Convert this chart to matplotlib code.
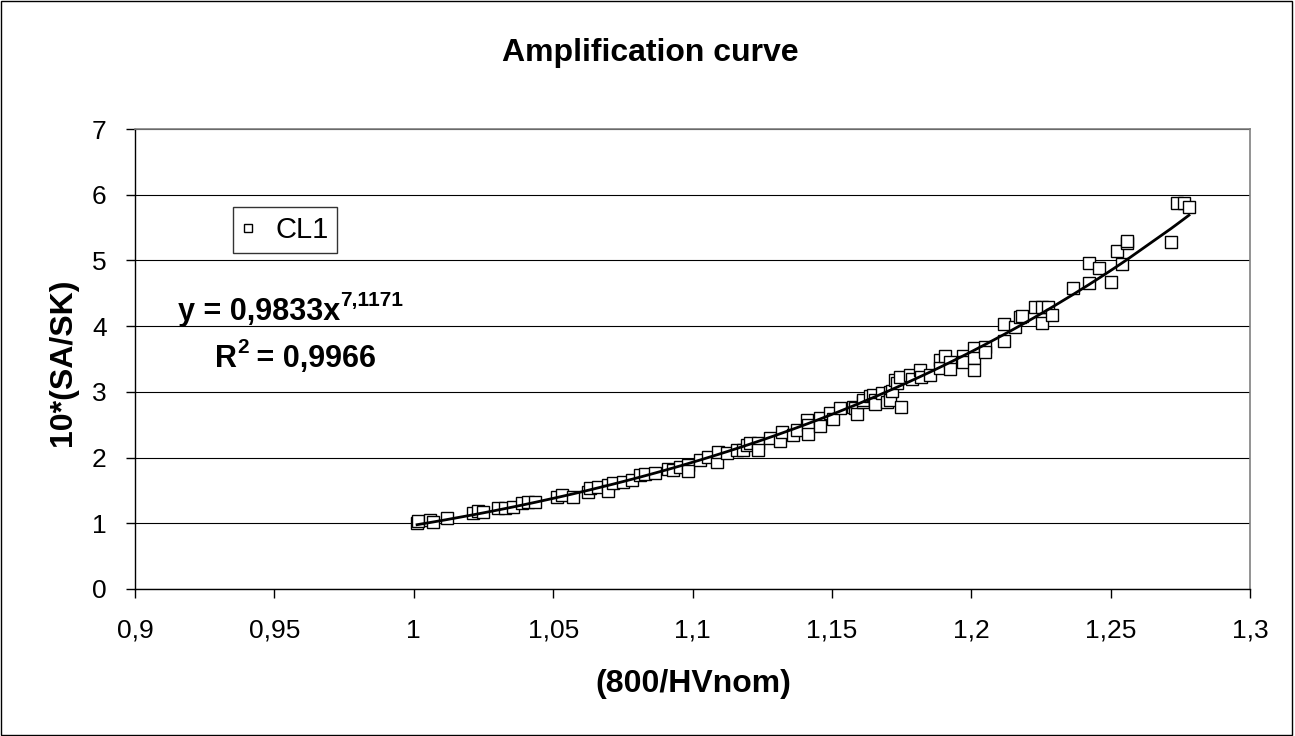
import numpy as np
import matplotlib
matplotlib.use('Agg')
import matplotlib.pyplot as plt
from matplotlib.ticker import FuncFormatter, MultipleLocator
from matplotlib.patches import Rectangle

plt.rcParams['font.family'] = ['Liberation Sans', 'DejaVu Sans']

# CL1 measurements: x = 800/HVnom, y = 10*(SA/SK)
cl1_x = [1.0012, 1.0015, 1.0058, 1.0069, 1.0119, 1.0213, 1.0230, 1.0248, 1.0302, 1.0327,
         1.0356, 1.0388, 1.0410, 1.0435, 1.0514, 1.0532, 1.0571, 1.0625, 1.0632, 1.0661,
         1.0697, 1.0697, 1.0715, 1.0751, 1.0783, 1.0812, 1.0830, 1.0865, 1.0912, 1.0930,
         1.0955, 1.0984, 1.0984, 1.1027, 1.1056, 1.1088, 1.1091, 1.1124, 1.1160, 1.1181,
         1.1196, 1.1206, 1.1235, 1.1235, 1.1278, 1.1314, 1.1321, 1.1361, 1.1375, 1.1411,
         1.1414, 1.1414, 1.1457, 1.1457, 1.1493, 1.1504, 1.1529, 1.1576, 1.1583, 1.1590,
         1.1612, 1.1612, 1.1637, 1.1648, 1.1655, 1.1655, 1.1680, 1.1698, 1.1709, 1.1709,
         1.1716, 1.1726, 1.1734, 1.1744, 1.1748, 1.1780, 1.1787, 1.1816, 1.1820, 1.1852,
         1.1888, 1.1888, 1.1906, 1.1924, 1.1924, 1.1970, 1.1970, 1.2010, 1.2010, 1.2010,
         1.2049, 1.2049, 1.2117, 1.2117, 1.2157, 1.2175, 1.2182, 1.2229, 1.2254, 1.2254,
         1.2275, 1.2290, 1.2365, 1.2422, 1.2422, 1.2458, 1.2501, 1.2523, 1.2541, 1.2559,
         1.2559, 1.2717, 1.2738, 1.2763, 1.2781]
cl1_y = [1.00, 1.04, 1.05, 1.02, 1.08, 1.16, 1.18, 1.17, 1.23, 1.24,
         1.25, 1.31, 1.32, 1.33, 1.40, 1.43, 1.40, 1.48, 1.54, 1.55,
         1.58, 1.49, 1.61, 1.63, 1.66, 1.74, 1.75, 1.77, 1.83, 1.81,
         1.86, 1.89, 1.80, 1.96, 2.01, 1.94, 2.09, 2.07, 2.12, 2.12,
         2.19, 2.22, 2.22, 2.11, 2.30, 2.25, 2.39, 2.35, 2.42, 2.57,
         2.50, 2.36, 2.60, 2.48, 2.68, 2.58, 2.75, 2.77, 2.75, 2.66,
         2.85, 2.88, 2.94, 2.95, 2.88, 2.81, 2.98, 2.84, 3.00, 2.88,
         3.02, 3.18, 3.14, 3.22, 2.77, 3.26, 3.19, 3.34, 3.22, 3.26,
         3.49, 3.37, 3.54, 3.46, 3.35, 3.54, 3.46, 3.67, 3.52, 3.34,
         3.69, 3.60, 4.04, 3.78, 3.99, 4.14, 4.16, 4.29, 4.29, 4.05,
         4.29, 4.17, 4.58, 4.96, 4.66, 4.89, 4.67, 5.14, 4.95, 5.27,
         5.30, 5.28, 5.87, 5.87, 5.81]

x_ticks = [0.9, 0.95, 1.0, 1.05, 1.1, 1.15, 1.2, 1.25, 1.3]

x = np.array(cl1_x)
y = np.array(cl1_y)

# power trendline fitted in log space
b, log_a = np.polyfit(np.log(x), np.log(y), 1)
xs = np.sort(x)
ys = np.exp(log_a) * xs ** b

fig = plt.figure(figsize=(12.95, 7.36), dpi=100)
fig.patches.append(Rectangle((0.001, 0.002), 0.997, 0.996, transform=fig.transFigure,
                             fill=False, edgecolor='black', linewidth=1.0))

ax = fig.add_axes([135 / 1295, 1 - 589 / 736, 1115 / 1295, 460 / 736])
ax.set_xlim(0.9, 1.3)
ax.set_ylim(0, 7)
ax.set_xticks(x_ticks)
ax.yaxis.set_major_locator(MultipleLocator(1))

comma = FuncFormatter(lambda v, p: ('%g' % round(v, 3)).replace('.', ','))
ax.xaxis.set_major_formatter(comma)
ax.yaxis.set_major_formatter(comma)

ax.grid(axis='y', color='black', linewidth=0.8)
ax.set_axisbelow(True)
for side in ['top', 'right']:
    ax.spines[side].set_color('#808080')
    ax.spines[side].set_linewidth(1.2)
for side in ['left', 'bottom']:
    ax.spines[side].set_color('black')
    ax.spines[side].set_linewidth(1.0)
ax.tick_params(direction='out', length=6.5, width=1, labelsize=19)
ax.tick_params(axis='x', pad=15)
ax.tick_params(axis='y', pad=14)

ax.plot(x, y, linestyle='none', marker='s', markersize=8, markerfacecolor='white',
        markeredgecolor='black', markeredgewidth=1.0, label='CL1', zorder=3)
ax.plot(xs, ys, color='black', linewidth=2.0, zorder=4)

leg = ax.legend(loc='upper left', bbox_to_anchor=(98 / 1115, 382 / 460), fontsize=21,
                frameon=True, fancybox=False, handlelength=0.4, handletextpad=0.75,
                borderpad=0.3, borderaxespad=0, markerscale=0.8)
leg.get_frame().set_edgecolor('black')
leg.get_frame().set_linewidth(1.0)

eq = fig.text(178 / 1295, 1 - 320 / 736, 'y = 0,9833x', fontsize=22, fontweight='bold',
              ha='left', va='baseline')
ax.annotate('7,1171', xy=(1.0, 0.56), xycoords=eq, fontsize=15, fontweight='bold',
            ha='left', va='bottom')
r2 = fig.text(215 / 1295, 1 - 367 / 736, 'R', fontsize=22, fontweight='bold',
              ha='left', va='baseline')
r2sup = ax.annotate('2', xy=(1.0, 0.58), xycoords=r2, fontsize=15, fontweight='bold',
                    ha='left', va='bottom')
ax.annotate(' = 0,9966', xy=(1.0, 1 - 367 / 736), xycoords=(r2sup, fig.transFigure),
            fontsize=22, fontweight='bold', ha='left', va='baseline')

fig.text(650 / 1295, 1 - 53 / 736, 'Amplification curve', fontsize=23, fontweight='bold',
         ha='center', va='center')
fig.text(693 / 1295, 1 - 684 / 736, '(800/HVnom)', fontsize=23, fontweight='bold',
         ha='center', va='center')
fig.text(63 / 1295, 1 - 362 / 736, '10*(SA/SK)', fontsize=23, fontweight='bold',
         ha='center', va='center', rotation=90)

fig.savefig('out.png', dpi=100)
